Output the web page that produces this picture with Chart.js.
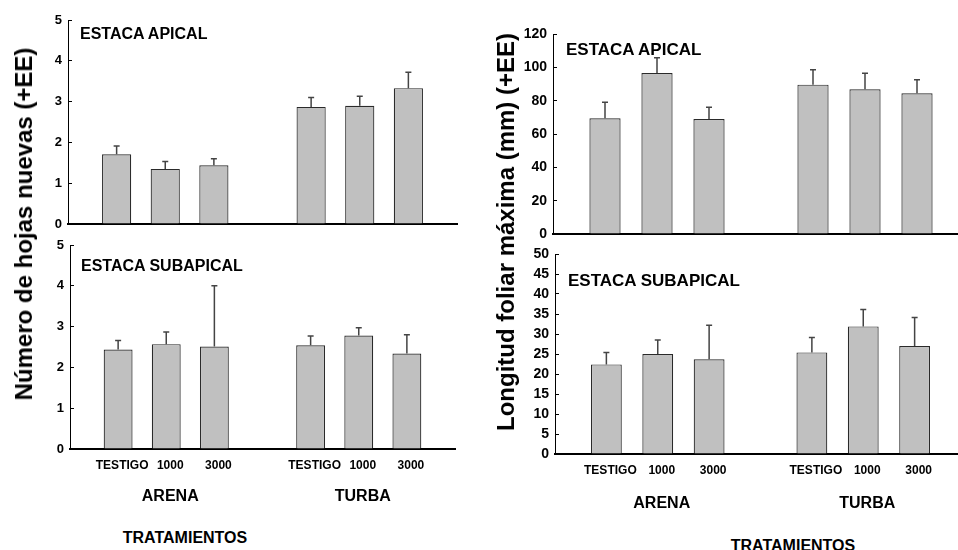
<!DOCTYPE html>
<html>
<head>
<meta charset="utf-8">
<script src="https://cdn.jsdelivr.net/npm/chart.js@4.4.1/dist/chart.umd.min.js"></script>
<style>
  html, body { margin: 0; padding: 0; background: #fff; overflow: hidden; width: 958px; height: 550px; }
  body { position: relative; font-family: "Liberation Sans", Arial, sans-serif; font-weight: bold; color: #000; }
  canvas { position: absolute; }
  .lbl { position: absolute; white-space: nowrap; line-height: 1; transform: translateY(-50%); }
  .ctr { position: absolute; white-space: nowrap; line-height: 1; transform: translate(-50%, -50%); }
  .vert { position: absolute; white-space: nowrap; line-height: 1; transform: translate(-50%, -50%) rotate(-90deg); }
</style>
</head>
<body>
<canvas id="hojasApical"></canvas>
<canvas id="hojasSubapical"></canvas>
<canvas id="longApical"></canvas>
<canvas id="longSubapical"></canvas>

<div class="vert" style="left:24px; top:224px; font-size:24px;">Número de hojas nuevas (+EE)</div>
<div class="vert" style="left:506px; top:232px; font-size:24px;">Longitud foliar máxima (mm) (+EE)</div>

<div class="lbl" style="left:80px; top:34px; font-size:16px;">ESTACA APICAL</div>
<div class="lbl" style="left:81px; top:266px; font-size:16px;">ESTACA SUBAPICAL</div>
<div class="lbl" style="left:566px; top:49px; font-size:17px;">ESTACA APICAL</div>
<div class="lbl" style="left:568px; top:280px; font-size:17px;">ESTACA SUBAPICAL</div>

<div class="ctr" style="left:185px; top:538px; font-size:16px;">TRATAMIENTOS</div>
<div class="ctr" style="left:793px; top:546px; font-size:16px;">TRATAMIENTOS</div>

<script>
// Treatments: rooting hormone dose within each substrate
const dosis = ['TESTIGO', '1000', '3000'];
const sustratos = ['ARENA', 'TURBA'];

// Number of new leaves (mean and standard error), ARENA x3 then TURBA x3
const hojasApical      = [1.71, 1.35, 1.44, 2.87, 2.90, 3.33];
const hojasApicalEE    = [0.20, 0.18, 0.16, 0.23, 0.23, 0.39];
const hojasSubapical   = [2.44, 2.57, 2.51, 2.54, 2.78, 2.34];
const hojasSubapicalEE = [0.22, 0.30, 1.49, 0.23, 0.19, 0.46];

// Maximum leaf length in mm (mean and standard error)
const longApical       = [69.4, 96.6, 69.0, 89.6, 86.8, 84.4];
const longApicalEE     = [9.6, 9.2, 7.0, 9.0, 9.6, 8.2];
const longSubapical    = [22.4, 25.0, 23.7, 25.4, 31.9, 27.0];
const longSubapicalEE  = [3.0, 3.5, 8.5, 3.7, 4.2, 7.1];

// Y tick values for each panel
const ticksHojas = [0, 1, 2, 3, 4, 5];
const ticksLongApical = [0, 20, 40, 60, 80, 100, 120];
const ticksLongSubapical = [0, 5, 10, 15, 20, 25, 30, 35, 40, 45, 50];

// Slots along the x axis: an empty slot at each end and between the substrates
const slotLabels = ['', ...dosis, '', ...dosis, ''];
function toSlots(v) {
  return [null, v[0], v[1], v[2], null, v[3], v[4], v[5], null];
}

// Upward-only standard error whiskers on each bar
const errorBars = {
  id: 'errorBars',
  afterDatasetsDraw(chart) {
    const ctx = chart.ctx;
    const yScale = chart.scales.y;
    chart.data.datasets.forEach((ds, di) => {
      const meta = chart.getDatasetMeta(di);
      ds.ee.forEach((e, i) => {
        const v = ds.data[i];
        if (v == null || e == null) return;
        const bar = meta.data[i];
        const yTop = yScale.getPixelForValue(v + e);
        ctx.save();
        ctx.strokeStyle = '#444';
        ctx.lineWidth = 1.5;
        ctx.beginPath();
        ctx.moveTo(bar.x, bar.y);
        ctx.lineTo(bar.x, yTop);
        ctx.moveTo(bar.x - 3, yTop);
        ctx.lineTo(bar.x + 3, yTop);
        ctx.stroke();
        ctx.restore();
      });
    });
  }
};

function panel(id, area, values, errors, yTicks, showX, tickSize) {
  const cv = document.getElementById(id);
  // margins wide enough that the plot area lands exactly on `area`
  const yW = 44, padT = 22, padR = 4;
  const xH = showX ? 34 : 2;
  const padB = showX ? 2 : 22;
  cv.width = yW + area.w + padR;
  cv.height = padT + area.h + xH + padB;
  cv.style.left = (area.x - yW) + 'px';
  cv.style.top = (area.y - padT) + 'px';

  return new Chart(cv, {
    type: 'bar',
    data: {
      labels: slotLabels,
      datasets: [{
        data: toSlots(values),
        ee: toSlots(errors),
        backgroundColor: '#c0c0c0',
        borderColor: '#2a2a2a',
        borderWidth: 1.2,
        barPercentage: 0.6,
        categoryPercentage: 1.0
      }]
    },
    options: {
      responsive: false,
      animation: false,
      devicePixelRatio: 1,
      layout: { padding: { top: padT, right: padR, bottom: padB, left: 0 } },
      plugins: { legend: { display: false }, tooltip: { enabled: false } },
      scales: {
        x: {
          type: 'category',
          offset: false,
          grid: { display: false, drawTicks: false },
          border: { display: true, color: '#000', width: 2 },
          ticks: {
            display: showX,
            autoSkip: false,
            maxRotation: 0,
            minRotation: 0,
            padding: 9,
            labelOffset: 4,
            color: '#000',
            font: { family: 'Liberation Sans, Arial, sans-serif', size: 12, weight: 'bold' }
          },
          afterFit(s) { s.height = xH; }
        },
        y: {
          min: yTicks[0],
          max: yTicks[yTicks.length - 1],
          afterBuildTicks(s) { s.ticks = yTicks.map(v => ({ value: v })); },
          grid: { drawOnChartArea: false, tickLength: -4, color: '#000', lineWidth: 1 },
          border: { display: true, color: '#000', width: 1 },
          ticks: {
            padding: 10,
            color: '#000',
            font: { family: 'Liberation Sans, Arial, sans-serif', size: tickSize, weight: 'bold' }
          },
          afterFit(s) { s.width = yW; }
        }
      }
    },
    plugins: [errorBars]
  });
}

panel('hojasApical',    { x: 68,  y: 20,  w: 389, h: 204 }, hojasApical,    hojasApicalEE,    ticksHojas,         false, 13);
const cLB = panel('hojasSubapical', { x: 70,  y: 245, w: 390, h: 204 }, hojasSubapical, hojasSubapicalEE, ticksHojas,         true,  13);
panel('longApical',     { x: 553, y: 34,  w: 416, h: 200 }, longApical,     longApicalEE,     ticksLongApical,    false, 14);
const cRB = panel('longSubapical',  { x: 555, y: 254, w: 416, h: 200 }, longSubapical,  longSubapicalEE,  ticksLongSubapical, true,  14);

// Substrate names centred under each group of three bars
function groupLabels(chart, top) {
  const left = parseFloat(chart.canvas.style.left);
  const xs = chart.scales.x;
  [[1, 3], [5, 7]].forEach((g, k) => {
    const cx = left + (xs.getPixelForValue(g[0]) + xs.getPixelForValue(g[1])) / 2 + 4;
    const d = document.createElement('div');
    d.className = 'ctr';
    d.style.left = cx + 'px';
    d.style.top = top + 'px';
    d.style.fontSize = '16px';
    d.textContent = sustratos[k];
    document.body.appendChild(d);
  });
}
groupLabels(cLB, 496);
groupLabels(cRB, 503);
</script>
</body>
</html>
